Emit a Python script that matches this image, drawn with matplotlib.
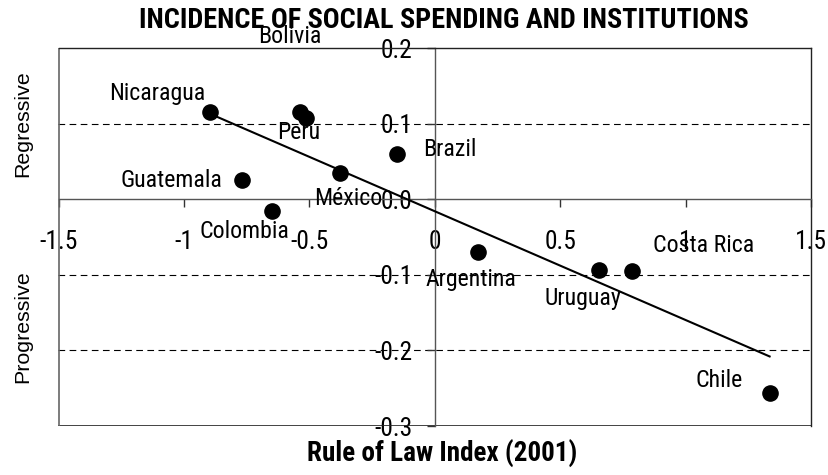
import matplotlib
matplotlib.use("Agg")
import matplotlib.pyplot as plt
from matplotlib import font_manager as fm

# ---------------- data ----------------
countries = ["Nicaragua", "Bolivia", "Peru", "Brazil", "México", "Guatemala",
             "Colombia", "Argentina", "Uruguay", "Costa Rica", "Chile"]
rule_of_law = [-0.896, -0.538, -0.514, -0.151, -0.378, -0.769,
               -0.649, 0.171, 0.653, 0.785, 1.335]
incidence = [0.115, 0.115, 0.107, 0.060, 0.035, 0.025,
             -0.015, -0.070, -0.093, -0.095, -0.257]
trend_x = [-0.896, 1.335]
trend_y = [0.113, -0.208]
x_ticks = [-1.5, -1, -0.5, 0, 0.5, 1, 1.5]
x_tick_labels = ["-1.5", "-1", "-0.5", "0", "0.5", "1", "1.5"]
y_ticks = [-0.3, -0.2, -0.1, 0.0, 0.1, 0.2]
y_tick_labels = ["-0.3", "-0.2", "-0.1", "0.0", "0.1", "0.2"]
dashed_levels = [0.1, -0.1, -0.2]
title = "INCIDENCE OF SOCIAL SPENDING AND INSTITUTIONS"
xlabel = "Rule of Law Index (2001)"
side_labels = ["Regressive", "Progressive"]

# ---------------- fonts ----------------
def pick_narrow(weight_bold):
    prefs = ["Liberation Sans Narrow", "Arial Narrow", "Roboto Condensed",
             "Open Sans Condensed", "Noto Sans", "Noto Sans Condensed",
             "DejaVu Sans", "DejaVu Sans Condensed"]
    cands = []
    for f in fm.fontManager.ttflist:
        narrow = ("Narrow" in f.name or "Condensed" in f.name
                  or "ondensed" in str(f.stretch) or "Narrow" in f.fname
                  or "Condensed" in f.fname)
        if not narrow or f.style != "normal":
            continue
        if "Semi" in f.fname or "Extra" in f.fname or "Ultra" in f.fname:
            continue
        w = f.weight if isinstance(f.weight, int) else (700 if "bold" in str(f.weight) else 400)
        cands.append((f, w))
    best = None
    for p in prefs:
        for f, w in cands:
            if f.name == p:
                score = abs(w - (700 if weight_bold else 400))
                if best is None or score < best[1]:
                    best = (f, score)
        if best is not None:
            break
    if best is None:
        return fm.FontProperties(family="Liberation Sans",
                                 weight="bold" if weight_bold else "normal")
    return fm.FontProperties(fname=best[0].fname)

FP_N = pick_narrow(False)
FP_B = pick_narrow(True)
FP_R = fm.FontProperties(family="Liberation Sans")

fig = plt.figure(figsize=(8.29, 4.75), dpi=100)
renderer = fig.canvas.get_renderer()

def fit(text, fp, target_px, base=12.0):
    t = fig.text(0, 0, text, fontproperties=fp, fontsize=base)
    w = t.get_window_extent(renderer).width
    t.remove()
    return base * target_px / w

SZ_TICK = fit("-1.5", FP_N, 38)
SZ_LAB = fit("Guatemala", FP_N, 101)
SZ_TITLE = fit(title, FP_B, 609)
SZ_XL = fit(xlabel, FP_B, 270)
SZ_SIDE = fit("Regressive", FP_R, 107)

# label placement (offset in points, alignment)
label_pos = {
    "Nicaragua": (-3.6, 13.7, "right", "center"),
    "Bolivia": (-7.2, 54.7, "center", "center"),
    "Peru": (-5, -10, "center", "center"),
    "Brazil": (18.7, 2.9, "left", "center"),
    "México": (5.8, -18.7, "center", "center"),
    "Guatemala": (-13.7, 0, "right", "center"),
    "Colombia": (-20, -15, "center", "center"),
    "Argentina": (-5, -19.4, "center", "center"),
    "Uruguay": (-11.5, -21, "center", "center"),
    "Costa Rica": (52, 18.7, "center", "center"),
    "Chile": (-36, 9.4, "center", "center"),
}

ax = fig.add_axes([58.5 / 829, 49 / 475, (811 - 58.5) / 829, (426 - 48) / 475])
ax.set_xlim(-1.5, 1.5)
ax.set_ylim(-0.3, 0.2)

for lv in dashed_levels:
    ax.axhline(lv, color="black", lw=0.8, ls=(0, (6, 4)), zorder=1)

ax.spines["bottom"].set_position(("data", 0))
ax.spines["left"].set_position(("data", 0))
for s in ["bottom", "left"]:
    ax.spines[s].set_color("#555555")
    ax.spines[s].set_linewidth(1.0)
for s in ["top", "right"]:
    ax.spines[s].set_color("#222222")
    ax.spines[s].set_linewidth(1.0)
ax.axhline(-0.3, color="#222222", lw=1.2, zorder=2)
ax.axvline(-1.5, color="#666666", lw=1.2, zorder=2)

ax.set_xticks(x_ticks)
ax.set_xticklabels(x_tick_labels, fontproperties=FP_N, fontsize=SZ_TICK)
ax.set_yticks(y_ticks)
ax.set_yticklabels(y_tick_labels, fontproperties=FP_N, fontsize=SZ_TICK)
for lab in ax.get_xticklabels() + ax.get_yticklabels():
    lab.set_fontsize(SZ_TICK)
ax.tick_params(axis="x", direction="out", length=6, width=1, color="#333333", pad=16)
ax.tick_params(axis="y", direction="out", length=6, width=1, color="#333333", pad=10)

ax.plot(trend_x, trend_y, color="black", lw=1.5, zorder=3)
ax.scatter(rule_of_law, incidence, s=120, color="black", zorder=4)

for name, x, y in zip(countries, rule_of_law, incidence):
    dx, dy, ha, va = label_pos[name]
    ax.annotate(name, (x, y), xytext=(dx, dy), textcoords="offset points",
                ha=ha, va=va, fontproperties=FP_N, fontsize=SZ_LAB, zorder=5)

fig.text(444 / 829, 1 - 20 / 475, title,
         ha="center", va="center", fontproperties=FP_B, fontsize=SZ_TITLE)
fig.text(442 / 829, 1 - 454 / 475, xlabel,
         ha="center", va="center", fontproperties=FP_B, fontsize=SZ_XL)
fig.text(23 / 829, 1 - 124 / 475, side_labels[0], rotation=90,
         ha="center", va="center", fontproperties=FP_R, fontsize=SZ_SIDE)
fig.text(23 / 829, 1 - 327 / 475, side_labels[1], rotation=90,
         ha="center", va="center", fontproperties=FP_R, fontsize=SZ_SIDE)

fig.savefig("out.png", dpi=100)
